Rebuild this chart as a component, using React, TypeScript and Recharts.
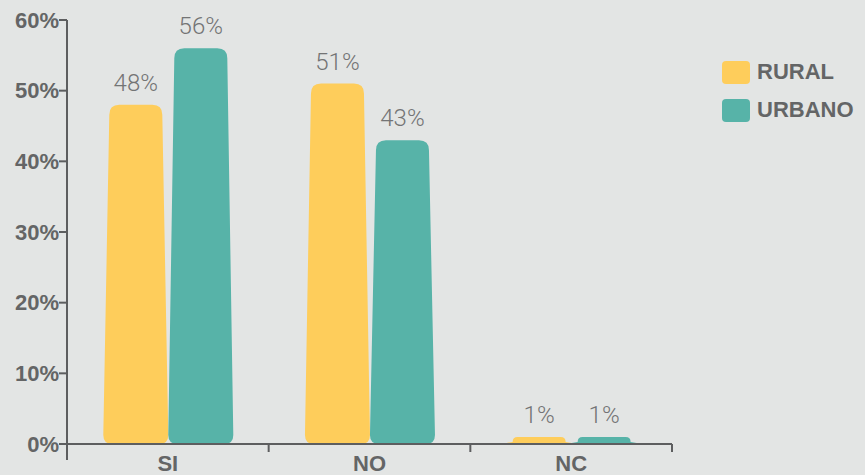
import React from "react";
import { BarChart, Bar, XAxis, YAxis, LabelList } from "recharts";

const categories = ["SI", "NO", "NC"];
const rural = [48, 51, 1];
const urbano = [56, 43, 1];
const yTicks = [0, 10, 20, 30, 40, 50, 60];

const data = categories.map((c, i) => ({ cat: c, rural: rural[i], urbano: urbano[i] }));

const W = 865;
const H = 475;
const X_H = 30;
const M = { top: 20, right: 193, bottom: 31 - X_H, left: 0 };
const Y_W = 67;
const BG = "#e3e5e4";
const AXIS = "#5d5e5f";
const TXT = "#646566";
const FONT = "'Liberation Sans', Arial, sans-serif";

const RURAL_C = "#fecd5b";
const URBANO_C = "#57b3a8";

const series = [
  { key: "rural", name: "RURAL", color: RURAL_C },
  { key: "urbano", name: "URBANO", color: URBANO_C },
];

function TaperBar(props: any) {
  const { x, y, width, height, fill } = props;
  if (!height || height <= 0) return null;
  const inset = Math.min(6, width / 6);
  const rt = Math.min(10, height * 0.7);
  const rb = Math.min(9, height * 0.15);
  const b = y + height;
  const d = [
    `M${x},${b - rb}`,
    `Q${x},${b} ${x + rb},${b}`,
    `L${x + width - rb},${b}`,
    `Q${x + width},${b} ${x + width},${b - rb}`,
    `L${x + width - inset},${y + rt}`,
    `Q${x + width - inset},${y} ${x + width - inset - rt},${y}`,
    `L${x + inset + rt},${y}`,
    `Q${x + inset},${y} ${x + inset},${y + rt}`,
    "Z",
  ].join(" ");
  return <path d={d} fill={fill} />;
}

function CatTick(props: any) {
  const { x, y, payload, index } = props;
  const bw = (W - Y_W - M.right) / categories.length;
  const left = x - bw / 2;
  return (
    <g>
      <line x1={left} y1={y} x2={left} y2={y + (index === 0 ? 16 : 8)} stroke={AXIS} strokeWidth={2} />
      {index === categories.length - 1 && (
        <line x1={left + bw} y1={y} x2={left + bw} y2={y + 8} stroke={AXIS} strokeWidth={2} />
      )}
      <text x={x} y={y + 27} textAnchor="middle" fill={TXT} fontFamily={FONT} fontWeight={700} fontSize={22}>
        {payload.value}
      </text>
    </g>
  );
}

export default function App() {
  const labelProps = {
    position: "top" as const,
    offset: 14,
    formatter: (v: number) => `${v}%`,
    fill: "#737475",
    fontFamily: "Roboto, 'Liberation Sans', sans-serif",
    fontWeight: 300,
    fontSize: 24,
  };
  return (
    <div style={{ position: "fixed", left: 0, top: 0, width: W, height: H, background: BG }}>
      <BarChart width={W} height={H} data={data} margin={M} barCategoryGap="18%" barGap={0}>
        <XAxis
          dataKey="cat"
          height={X_H}
          axisLine={{ stroke: AXIS, strokeWidth: 2 }}
          tickLine={false}
          tickSize={0}
          tickMargin={0}
          tick={<CatTick />}
          interval={0}
        />
        <YAxis
          width={Y_W}
          domain={[0, 60]}
          ticks={yTicks}
          tickFormatter={(v: number) => `${v}%`}
          axisLine={{ stroke: AXIS, strokeWidth: 2 }}
          tickLine={{ stroke: AXIS, strokeWidth: 2 }}
          tickSize={8}
          tickMargin={0}
          tick={{ fill: TXT, fontFamily: FONT, fontWeight: 700, fontSize: 22 }}
        />
        <Bar dataKey="rural" name="RURAL" fill={RURAL_C} shape={<TaperBar />} isAnimationActive={false}>
          <LabelList dataKey="rural" {...labelProps} />
        </Bar>
        <Bar dataKey="urbano" name="URBANO" fill={URBANO_C} shape={<TaperBar />} isAnimationActive={false}>
          <LabelList dataKey="urbano" {...labelProps} />
        </Bar>
      </BarChart>
      <div style={{ position: "absolute", left: 722, top: 53, fontFamily: FONT }}>
        {series.map((s) => (
          <div key={s.key} style={{ display: "flex", alignItems: "center", height: 38 }}>
            <div style={{ width: 28, height: 23, background: s.color, borderRadius: 4, marginRight: 7 }} />
            <span style={{ color: TXT, fontWeight: 700, fontSize: 22 }}>{s.name}</span>
          </div>
        ))}
      </div>
    </div>
  );
}
